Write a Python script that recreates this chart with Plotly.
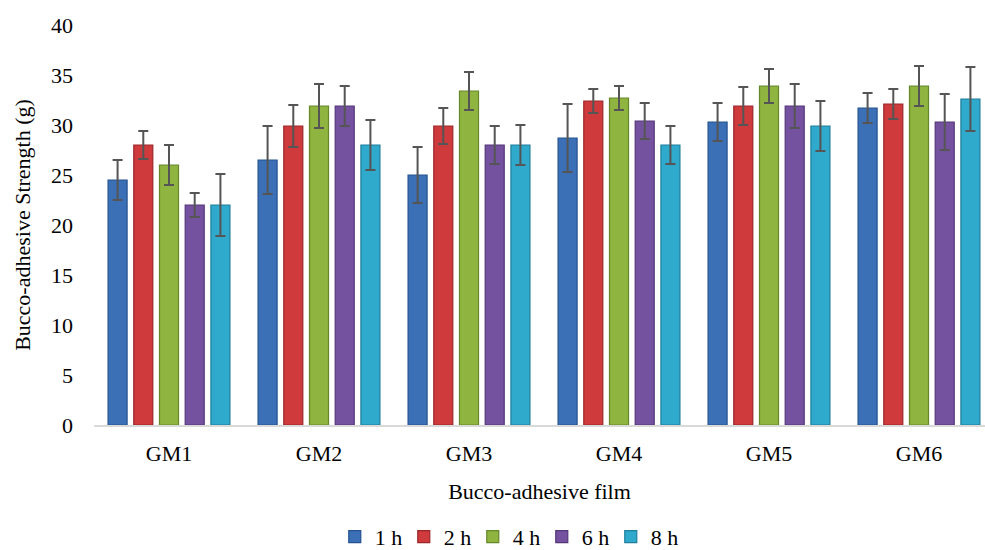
import plotly.graph_objects as go

# Bucco-adhesive strength of films GM1-GM6 measured at several time points
films = ["GM1", "GM2", "GM3", "GM4", "GM5", "GM6"]
times = ["1 h", "2 h", "4 h", "6 h", "8 h"]

strength_1h = [24.5, 26.5, 25.0, 28.7, 30.3, 31.7]
strength_2h = [28.0, 29.9, 29.9, 32.4, 31.9, 32.1]
strength_4h = [26.0, 31.9, 33.4, 32.7, 33.9, 33.9]
strength_6h = [22.0, 31.9, 28.0, 30.4, 31.9, 30.3]
strength_8h = [22.0, 28.0, 28.0, 28.0, 29.9, 32.6]

sd_1h = [2.0, 3.4, 2.8, 3.4, 1.9, 1.5]
sd_2h = [1.4, 2.1, 1.8, 1.2, 1.9, 1.5]
sd_4h = [2.0, 2.2, 1.9, 1.2, 1.7, 2.0]
sd_6h = [1.2, 2.0, 1.9, 1.8, 2.2, 2.8]
sd_8h = [3.1, 2.5, 2.0, 1.9, 2.5, 3.2]

y_ticks = [0, 5, 10, 15, 20, 25, 30, 35, 40]

series = [
    (strength_1h, sd_1h, "#3b70b6", "#24528f"),
    (strength_2h, sd_2h, "#cf3a3c", "#9c2629"),
    (strength_4h, sd_4h, "#8fb440", "#66872a"),
    (strength_6h, sd_6h, "#7552a0", "#543779"),
    (strength_8h, sd_8h, "#2fa9cc", "#1f7f9c"),
]

FONT = "Liberation Serif"

fig = go.Figure()
for name, (vals, errs, color, edge) in zip(times, series):
    fig.add_trace(go.Bar(
        name=name,
        x=films,
        y=vals,
        marker=dict(color=color, line=dict(color=edge, width=1.2)),
        error_y=dict(type="data", array=errs, visible=True,
                     color="#555555", thickness=2, width=5),
    ))

fig.update_layout(
    width=985,
    height=550,
    autosize=False,
    margin=dict(l=94, r=0, t=25, b=125),
    paper_bgcolor="white",
    plot_bgcolor="white",
    barmode="group",
    bargap=0.143,
    bargroupgap=0.26,
    font=dict(family=FONT, size=22, color="black"),
    showlegend=True,
    legend=dict(
        orientation="h",
        xref="container",
        yref="container",
        x=0.515,
        xanchor="center",
        y=0.024,
        yanchor="middle",
        font=dict(family=FONT, size=22, color="black"),
        itemwidth=30,
        entrywidth=24,
        traceorder="normal",
    ),
)

fig.update_xaxes(
    type="category",
    range=[-0.5, 5.44],
    showline=True,
    linecolor="#d9d9d9",
    linewidth=2,
    showgrid=False,
    ticks="",
    ticklabelstandoff=8,
    tickfont=dict(family=FONT, size=22),
    title=dict(text="Bucco-adhesive film", font=dict(family=FONT, size=22), standoff=18),
)

fig.update_yaxes(
    range=[0, 40],
    tickvals=y_ticks,
    showline=False,
    showgrid=False,
    zeroline=False,
    ticks="",
    ticklabelstandoff=20,
    tickfont=dict(family=FONT, size=22),
    title=dict(text="Bucco-adhesive Strength (g)", font=dict(family=FONT, size=22), standoff=14),
)

fig.write_html("out.html")
